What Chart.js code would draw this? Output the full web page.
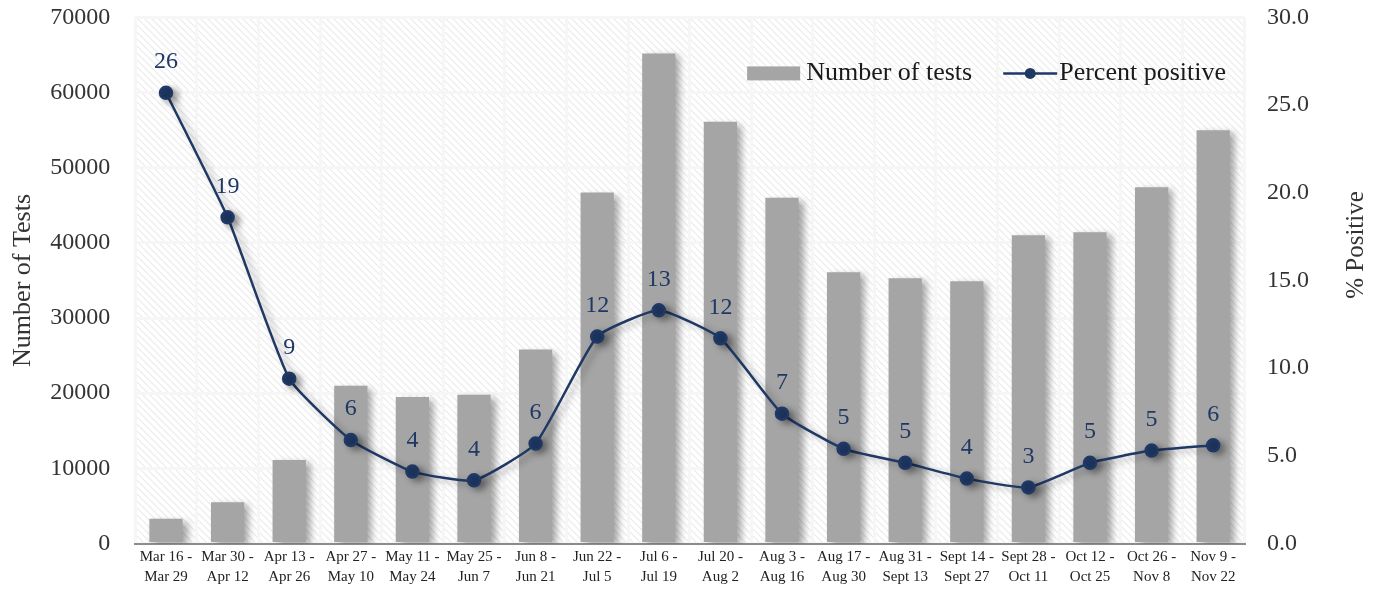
<!DOCTYPE html>
<html>
<head>
<meta charset="utf-8">
<title>Tests and percent positive</title>
<script src="https://cdn.jsdelivr.net/npm/chart.js@4.4.1/dist/chart.umd.min.js"></script>
<style>
  html, body { margin: 0; padding: 0; background: #fff; }
  #wrap { width: 1379px; height: 590px; position: relative; }
</style>
</head>
<body>
<div id="wrap"><canvas id="testsChart"></canvas></div>
<script>
const periods = [
    ['Mar 16 -', 'Mar 29'], ['Mar 30 -', 'Apr 12'], ['Apr 13 -', 'Apr 26'],
    ['Apr 27 -', 'May 10'], ['May 11 -', 'May 24'], ['May 25 -', 'Jun 7'],
    ['Jun 8 -', 'Jun 21'], ['Jun 22 -', 'Jul 5'], ['Jul 6 -', 'Jul 19'],
    ['Jul 20 -', 'Aug 2'], ['Aug 3 -', 'Aug 16'], ['Aug 17 -', 'Aug 30'],
    ['Aug 31 -', 'Sept 13'], ['Sept 14 -', 'Sept 27'], ['Sept 28 -', 'Oct 11'],
    ['Oct 12 -', 'Oct 25'], ['Oct 26 -', 'Nov 8'], ['Nov 9 -', 'Nov 22']
];
const numberOfTests = [3300, 5500, 11100, 21000, 19500, 19800, 25800, 46700, 65200,
    56100, 46000, 36100, 35300, 34900, 41000, 41400, 47400, 55000];
const percentPositive = [25.7, 18.6, 9.4, 5.9, 4.1, 3.6, 5.7, 11.8, 13.3,
    11.7, 7.4, 5.4, 4.6, 3.7, 3.2, 4.6, 5.3, 5.6];

const SERIF = '"Liberation Serif", "DejaVu Serif", serif';
const NAVY = '#1f3864';
const BAR_GREY = '#a5a5a5';

// diagonal hatch behind the plot area
function makeHatch() {
    const c = document.createElement('canvas');
    c.width = 7; c.height = 7;
    const g = c.getContext('2d');
    g.fillStyle = '#ffffff';
    g.fillRect(0, 0, 7, 7);
    g.strokeStyle = '#ebebeb';
    g.lineWidth = 1.2;
    g.beginPath();
    g.moveTo(-1, -1); g.lineTo(8, 8);
    g.moveTo(-1, 6); g.lineTo(1, 8);
    g.moveTo(6, -1); g.lineTo(8, 1);
    g.stroke();
    return g.createPattern(c, 'repeat');
}

const extras = {
    id: 'extras',
    beforeDraw(chart) {
        const { ctx, chartArea: a } = chart;
        ctx.save();
        ctx.fillStyle = makeHatch();
        ctx.fillRect(a.left, a.top, a.right - a.left, a.bottom - a.top);
        ctx.restore();
    },
    beforeDatasetDraw(chart) {
        const ctx = chart.ctx;
        ctx.save();
        ctx.shadowColor = 'rgba(0, 0, 0, 0.35)';
        ctx.shadowBlur = 7;
        ctx.shadowOffsetX = 5;
        ctx.shadowOffsetY = 3;
    },
    afterDatasetDraw(chart) {
        chart.ctx.restore();
    },
    afterDraw(chart) {
        const { ctx, chartArea: a } = chart;
        ctx.save();

        // value labels above the line points
        const meta = chart.getDatasetMeta(1);
        ctx.fillStyle = NAVY;
        ctx.font = '24px ' + SERIF;
        ctx.textAlign = 'center';
        ctx.textBaseline = 'middle';
        meta.data.forEach((pt, i) => {
            ctx.fillText(Math.round(percentPositive[i]), pt.x, pt.y - 31);
        });

        // legend
        ctx.font = '26px ' + SERIF;
        ctx.textAlign = 'left';
        const ly = a.top + 56;
        const w2 = ctx.measureText('Percent positive').width;
        const x2 = a.right - 18 - w2;
        const lineEnd = x2 - 2;
        const lineStart = lineEnd - 54;
        const w1 = ctx.measureText('Number of tests').width;
        const x1 = lineStart - 31 - w1;
        ctx.fillStyle = BAR_GREY;
        ctx.fillRect(x1 - 59, ly - 7, 53, 14);
        ctx.fillStyle = '#1a1a1a';
        ctx.fillText('Number of tests', x1, ly);
        ctx.fillText('Percent positive', x2, ly);
        ctx.strokeStyle = NAVY;
        ctx.lineWidth = 2.5;
        ctx.beginPath();
        ctx.moveTo(lineStart, ly);
        ctx.lineTo(lineEnd, ly);
        ctx.stroke();
        ctx.fillStyle = NAVY;
        ctx.beginPath();
        ctx.arc((lineStart + lineEnd) / 2, ly, 5.5, 0, Math.PI * 2);
        ctx.fill();

        // right axis title, reading bottom to top
        ctx.translate(chart.width - 23, 245);
        ctx.rotate(-Math.PI / 2);
        ctx.textAlign = 'center';
        ctx.fillStyle = '#333333';
        ctx.font = '25px ' + SERIF;
        ctx.fillText('% Positive', 0, 0);
        ctx.restore();
    }
};

new Chart(document.getElementById('testsChart').getContext('2d'), {
    type: 'bar',
    data: {
        labels: periods,
        datasets: [
            {
                label: 'Number of tests',
                data: numberOfTests,
                backgroundColor: BAR_GREY,
                categoryPercentage: 1,
                barPercentage: 0.54,
                yAxisID: 'y',
                order: 2
            },
            {
                type: 'line',
                label: 'Percent positive',
                data: percentPositive,
                borderColor: NAVY,
                backgroundColor: NAVY,
                borderWidth: 2.5,
                pointRadius: 6,
                pointHoverRadius: 6,
                tension: 0.15,
                yAxisID: 'y1',
                order: 1
            }
        ]
    },
    options: {
        responsive: true,
        maintainAspectRatio: false,
        animation: false,
        layout: { padding: { top: 4, left: 8, right: 67, bottom: 0 } },
        plugins: {
            legend: { display: false },
            tooltip: { enabled: false }
        },
        scales: {
            x: {
                grid: { color: '#f6f6f6', lineWidth: 3, drawTicks: false },
                border: { display: true, color: '#8c8c8c', width: 2 },
                ticks: {
                    color: '#222',
                    maxRotation: 0,
                    autoSkip: false,
                    padding: 3,
                    font: { family: SERIF, size: 15, lineHeight: 1.35 }
                }
            },
            y: {
                position: 'left',
                min: 0,
                max: 70000,
                ticks: {
                    stepSize: 10000,
                    color: '#333',
                    padding: 3,
                    font: { family: SERIF, size: 24 },
                    callback: v => String(v)
                },
                // invisible tick marks give the gap without extra top padding
                grid: { color: '#f6f6f6', lineWidth: 3, drawTicks: true, tickLength: 22, tickColor: 'rgba(0,0,0,0)' },
                border: { display: false },
                title: {
                    display: true,
                    text: 'Number of Tests',
                    color: '#333',
                    padding: { top: 0, bottom: 8 },
                    font: { family: SERIF, size: 26 }
                }
            },
            y1: {
                position: 'right',
                min: 0,
                max: 30,
                ticks: {
                    stepSize: 5,
                    color: '#333',
                    padding: 3,
                    font: { family: SERIF, size: 24 },
                    callback: v => v.toFixed(1)
                },
                grid: { drawOnChartArea: false, drawTicks: true, tickLength: 20, color: 'rgba(0,0,0,0)', tickColor: 'rgba(0,0,0,0)' },
                border: { display: false }
            }
        }
    },
    plugins: [extras]
});
</script>
</body>
</html>
